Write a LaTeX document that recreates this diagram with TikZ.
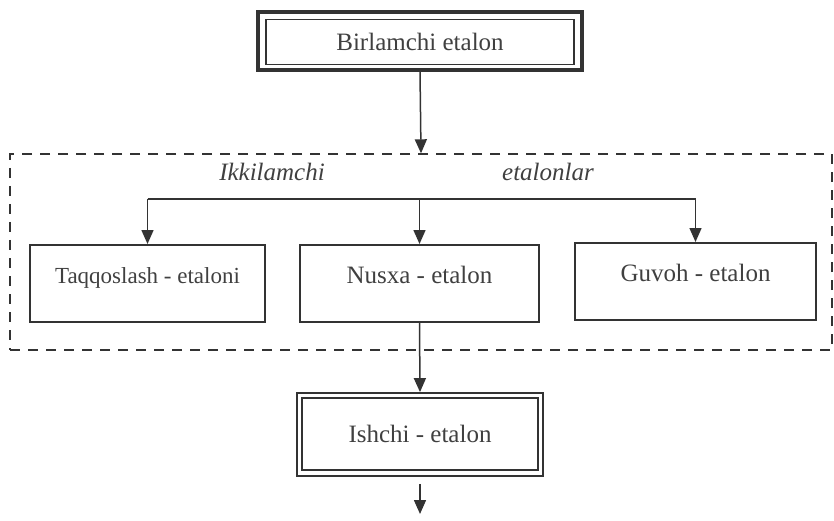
\documentclass[tikz,border=0pt]{standalone}
\usepackage{fontspec}
\setmainfont{Liberation Serif}
\usepackage{tikz}
\usetikzlibrary{arrows.meta}

\begin{document}
\begin{tikzpicture}[x=1pt,y=-1pt,
	line/.style={draw=black!80, line width=1.5pt},
	arr/.style={line, -{Triangle[length=14pt,width=12pt]}},
	box/.style={draw=black!80, line width=2pt, inner sep=0pt, text=black!75,
		font=\fontsize{25}{30}\selectfont},
	midbox/.style={box, minimum height=77pt, text height=17pt, text depth=18pt},
	lbl/.style={text=black!75, font=\fontsize{25}{30}\selectfont\itshape}]
	\useasboundingbox (0,0) rectangle (834,521);
	% top box
	\node[box, line width=3.5pt, minimum width=324pt, minimum height=58pt] (birl) at (420,41) {};
	\node[box, line width=1.3pt, minimum width=308pt, minimum height=45pt] (birlin) at (420,42) {Birlamchi etalon};
	% dashed frame
	\node[draw=black!80, line width=1.4pt, dash pattern=on 10pt off 8pt,
		minimum width=822pt, minimum height=196pt] (frame) at (421,252) {};
	\node[lbl] (ikki) at (272,172) {Ikkilamchi};
	\node[lbl] (etl) at (548,172) {etalonlar};
	\node[midbox, minimum width=235pt, font=\fontsize{23}{28}\selectfont] (taq) at (147.5,283.5) {Taqqoslash - etaloni};
	\node[midbox, minimum width=239pt] (nus) at (419.5,283.5) {Nusxa - etalon};
	\node[midbox, minimum width=241pt] (guv) at (695.5,281.5) {Guvoh - etalon};
	% bottom box
	\node[box, line width=1.8pt, minimum width=246pt, minimum height=83pt] (ish) at (420,434.5) {};
	\node[box, line width=1.5pt, minimum width=236pt, minimum height=72pt] (ishin) at (420,434) {Ishchi - etalon};
	\coordinate (bus) at (420,199);
	\coordinate (out) at (420,514);
	% connectors
	\draw[arr] (birl.south) -- (frame.north);
	\draw[line] (taq.north |- bus) -- (guv.north |- bus);
	\draw[arr] (taq.north |- bus) -- (taq.north);
	\draw[arr] (nus.north |- bus) -- (nus.north);
	\draw[arr] (guv.north |- bus) -- (guv.north);
	\draw[arr] (nus.south) -- (ish.north);
	\draw[arr, shorten <=7pt] (ish.south) -- (out);
\end{tikzpicture}
\end{document}
